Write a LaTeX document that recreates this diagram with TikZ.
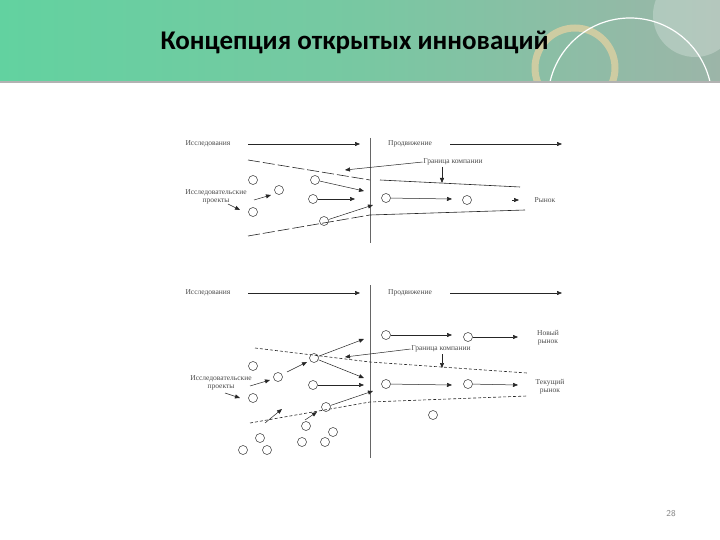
\documentclass[tikz,border=0pt]{standalone}
\usepackage{fontspec}
\setmainfont{Liberation Serif}
\newfontfamily\titlefont{Carlito}
\usetikzlibrary{arrows.meta}
\definecolor{hdrA}{HTML}{62D2A0}
\definecolor{hdrB}{HTML}{78C8A2}
\definecolor{hdrC}{HTML}{9CB5A8}
\definecolor{ring}{HTML}{D9CFA2}
\begin{document}
\begin{tikzpicture}[x=1pt,y=-1pt,
  lbl/.style={font=\fontsize{7.5}{8}\selectfont,text=black!70,inner sep=0.5pt,align=center},
  circ/.style={draw=black!80,circle,minimum size=9pt,inner sep=0pt,line width=0.5pt},
  arr/.style={-{Triangle[length=5pt,width=4pt]},line width=0.5pt,black!85},
  bnd/.style={line width=0.6pt,black!85,dash pattern=on 12pt off 3pt},
  bndd/.style={line width=0.6pt,black!85,dash pattern=on 3pt off 2pt},
  vline/.style={line width=0.9pt,black!60}]
\useasboundingbox (0,0) rectangle (720,540);
\fill[white] (0,0) rectangle (720,540);
% header
\shade[left color=hdrA,right color=hdrC,middle color=hdrB] (0,0) rectangle (720,82);
\begin{scope}
\clip (0,0) rectangle (720,82);
\draw[line width=7pt,color=ring,opacity=0.85] (575,68) circle (40);
\draw[white,line width=1.2pt] (630,100) circle (82);
\fill[white,opacity=0.25] (695,15) circle (42);
\end{scope}
\fill[gray!60] (0,81) rectangle (720,83);
\node[font=\titlefont\bfseries\fontsize{27}{29}\selectfont,anchor=west] (title) at (157,42) {Концепция открытых инноваций};
\node[font=\sffamily\fontsize{9}{10}\selectfont,text=gray] (pg) at (671,514) {28};

% ===== top diagram =====
\node[lbl] (t1) at (208,144) {Исследования};
\node[lbl] (t2) at (410,144) {Продвижение};
\coordinate (a1s) at (248,144); \coordinate (a1e) at (360,144);
\coordinate (a2s) at (450,144); \coordinate (a2e) at (562,144);
\draw[arr] (a1s) -- (a1e); \draw[arr] (a2s) -- (a2e);
\coordinate (v1) at (370,138); \coordinate (v2) at (370,243);
\draw[vline] (v1) -- (v2);
\coordinate (u1) at (248,160); \coordinate (u2) at (370,180); \coordinate (u3) at (520,187);
\coordinate (l1) at (248,236); \coordinate (l2) at (370,215); \coordinate (l3) at (525,210);
\draw[bnd] (u1) -- (u2); \draw[line width=0.6pt,black!85] (380,180) -- (u3);
\draw[bnd] (l1) -- (l2); \draw[line width=0.6pt,black!85] (l2) -- (l3);
\node[lbl] (tg) at (453,162) {Граница компании};
\coordinate (tga) at (345,170); \coordinate (tgb) at (442,183);
\draw[arr] (tg.west) -- (tga); \draw[arr] (442,167) -- (tgb);
\node[circ] (c1) at (253,180) {};
\node[circ] (c2) at (315,180) {};
\node[circ] (c3) at (279,190) {};
\node[circ] (c4) at (313,199) {};
\node[circ] (c5) at (253,212) {};
\node[circ] (c6) at (324,221) {};
\node[circ] (c7) at (386,198) {};
\node[circ] (c8) at (467,200) {};
\node[lbl] (tp) at (216,197) {Исследовательские\\проекты};
\coordinate (p1) at (271,195); \coordinate (p2) at (240,210);
\draw[arr] (254,200) -- (p1); \draw[arr] (228,204) -- (p2);
\coordinate (q1) at (364,191); \coordinate (q2) at (355,199); \coordinate (q3) at (373,205);
\coordinate (q4) at (452,199); \coordinate (q5) at (519,200); \coordinate (q6) at (512,200);
\draw[arr] (c2) -- (q1); \draw[arr] (c4) -- (q2); \draw[arr] (c6) -- (q3);
\draw[arr] (c7) -- (q4); \draw[arr] (q6) -- (q5);
\node[lbl] (tr) at (545,200) {Рынок};

% ===== bottom diagram =====
\node[lbl] (b1) at (208,293) {Исследования};
\node[lbl] (b2) at (410,293) {Продвижение};
\draw[arr] (248,293) coordinate (ba) -- (360,293) coordinate (bb);
\draw[arr] (450,293) coordinate (bc) -- (562,293) coordinate (bd);
\draw[vline] (370,285) coordinate (w1) -- (370,458) coordinate (w2);
\draw[bndd] (255,348) coordinate (x1) -- (370,362) coordinate (x2) -- (527,373) coordinate (x3);
\draw[bndd] (250,423) coordinate (y1) -- (370,402) coordinate (y2) -- (527,396) coordinate (y3);
\node[lbl] (bg) at (441,349) {Граница компании};
\draw[arr] (bg.west) -- (345,357) coordinate (bga);
\draw[arr] (442,354) -- (442,368) coordinate (bgb);
\foreach \n/\x/\y in {d1/386/335,d2/468/337,d3/314/358,d4/253/366,d5/278/377,d6/313/385,d7/253/398,d8/326/407,d9/386/384,d10/468/384,d11/433/415,d12/306/426,d13/333/432,d14/260/438,d15/302/442,d16/325/442,d17/243/450,d18/267/450}
  \node[circ] (\n) at (\x,\y) {};
\node[lbl] (bn) at (548,338) {Новый\\рынок};
\node[lbl] (bt) at (550,387) {Текущий\\рынок};
\node[lbl] (bp) at (221,383) {Исследовательские\\проекты};
\draw[arr] (d1) -- (452,335) coordinate (e1);
\draw[arr] (d2) -- (518,337) coordinate (e2);
\draw[arr] (d9) -- (452,385) coordinate (e3);
\draw[arr] (d10) -- (518,385) coordinate (e4);
\draw[arr] (225,393) coordinate (f0) -- (240,398) coordinate (f1);
\draw[arr] (250,386) coordinate (f2) -- (270,380) coordinate (f3);
\draw[arr] (287,372) coordinate (f4) -- (307,362) coordinate (f5);
\draw[arr] (d3) -- (364,339) coordinate (f6);
\draw[arr] (d3) -- (364,378) coordinate (f7);
\draw[arr] (d6) -- (364,385) coordinate (f8);
\draw[arr] (d8) -- (373,391) coordinate (f9);
\draw[arr] (265,423) coordinate (g1) -- (282,409) coordinate (g2);
\draw[arr] (305,420) coordinate (g3) -- (317,412) coordinate (g4);
\end{tikzpicture}
\end{document}
